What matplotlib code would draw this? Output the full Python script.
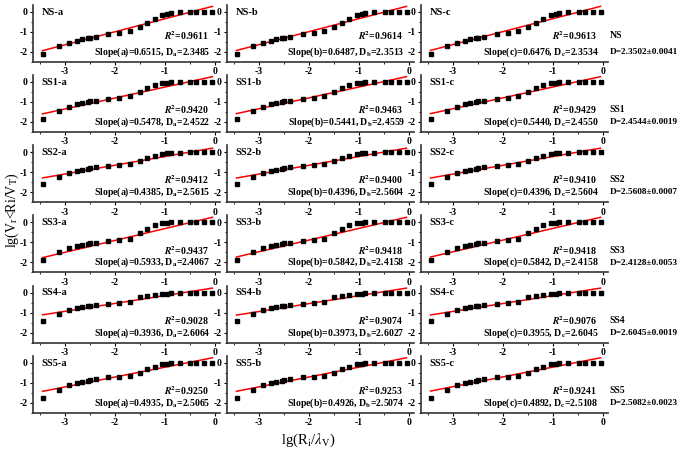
import numpy as np
import matplotlib
matplotlib.use('Agg')
import matplotlib.pyplot as plt
from matplotlib.ticker import MultipleLocator

plt.rcParams['font.family'] = ['Liberation Serif', 'DejaVu Serif']
plt.rcParams['mathtext.fontset'] = 'stix'

# lg(Ri/lambda_V) - одинаковые для всех панелей
x_vals = [-3.45, -3.13, -2.92, -2.77, -2.66, -2.55, -2.50, -2.38, -2.13, -1.91, -1.70,
          -1.50, -1.35, -1.20, -1.05, -0.95, -0.88, -0.70, -0.49, -0.37, -0.21, -0.05]

rows = ['NS', 'SS1', 'SS2', 'SS3', 'SS4', 'SS5']
cols = ['a', 'b', 'c']

ns_y = [-2.10, -1.73, -1.56, -1.47, -1.39, -1.34, -1.31, -1.25, -1.14, -1.05, -0.97,
        -0.78, -0.56, -0.36, -0.17, -0.10, -0.07, -0.03, -0.02, -0.01, 0.0, 0.0]
ss1_y = [-1.85, -1.45, -1.25, -1.12, -1.07, -1.02, -0.98, -0.95, -0.87, -0.82, -0.72,
         -0.52, -0.32, -0.18, -0.08, -0.05, -0.02, -0.02, -0.01, -0.01, 0.0, 0.0]
ss2_y = [-1.58, -1.25, -1.05, -0.92, -0.87, -0.82, -0.78, -0.76, -0.69, -0.64, -0.59,
         -0.43, -0.31, -0.20, -0.10, -0.06, -0.03, -0.02, -0.01, -0.01, 0.0, 0.0]
ss3_y = [-1.90, -1.50, -1.27, -1.18, -1.13, -1.08, -1.05, -1.02, -0.93, -0.87, -0.82,
         -0.55, -0.32, -0.15, -0.05, -0.02, 0.0, 0.0, 0.0, 0.0, 0.0, 0.0]
ss4_y = [-1.44, -1.08, -0.89, -0.79, -0.73, -0.68, -0.65, -0.63, -0.56, -0.50, -0.45,
         -0.24, -0.16, -0.11, -0.06, -0.05, -0.03, -0.02, -0.01, -0.01, 0.0, 0.0]
ss5_y = [-1.78, -1.35, -1.12, -1.02, -0.95, -0.90, -0.87, -0.82, -0.73, -0.70, -0.65,
         -0.50, -0.33, -0.20, -0.08, -0.05, -0.03, -0.02, -0.01, -0.01, 0.0, 0.0]
y_rows = [ns_y, ss1_y, ss2_y, ss3_y, ss4_y, ss5_y]

# свободный член линии регрессии (оценка по рисунку)
intercepts = [0.30, 0.29, 0.22, 0.28, 0.24, 0.27]

r2 = [[0.9611, 0.9614, 0.9613],
      [0.9420, 0.9463, 0.9429],
      [0.9412, 0.9400, 0.9410],
      [0.9437, 0.9418, 0.9418],
      [0.9028, 0.9074, 0.9076],
      [0.9250, 0.9253, 0.9241]]
slopes = [[0.6515, 0.6487, 0.6476],
          [0.5478, 0.5441, 0.5440],
          [0.4385, 0.4396, 0.4396],
          [0.5933, 0.5842, 0.5842],
          [0.3936, 0.3973, 0.3955],
          [0.4935, 0.4926, 0.4892]]
dims = [[2.3485, 2.3513, 2.3534],
        [2.4522, 2.4559, 2.4550],
        [2.5615, 2.5604, 2.5604],
        [2.4067, 2.4158, 2.4158],
        [2.6064, 2.6027, 2.6045],
        [2.5065, 2.5074, 2.5108]]
d_summary = ['D=2.3502±0.0041', 'D=2.4544±0.0019', 'D=2.5608±0.0007',
             'D=2.4128±0.0053', 'D=2.6045±0.0019', 'D=2.5082±0.0023']

W, H = 685, 455
fig = plt.figure(figsize=(W / 100, H / 100), dpi=100)

col_left = [33, 227, 421]
ax_w = 187
ax_h = 57
fs = 7

for i, row in enumerate(rows):
    bottom_px = 61.7 + 70.2 * i
    r2_y = 0.46 if i == 0 else 0.39
    for j, c in enumerate(cols):
        ax = fig.add_axes([col_left[j] / W, 1 - bottom_px / H, ax_w / W, ax_h / H])
        x = np.array(x_vals)
        y = np.array(y_rows[i])
        ax.plot(x, y, 's', color='black', ms=3.4, zorder=3)
        xl = np.array([x[0], x[-1]])
        ax.plot(xl, slopes[i][j] * xl + intercepts[i], color='#ff0000', lw=1.1, zorder=2)

        ax.set_xlim(-3.64, 0.1)
        ax.set_ylim(-2.5, 0.35)
        ax.set_xticks([-3, -2, -1, 0])
        ax.set_yticks([0, -1, -2])
        ax.set_xticklabels(['-3', '-2', '-1', '0'])
        ax.set_yticklabels(['0', '-1', '-2'])
        ax.xaxis.set_minor_locator(MultipleLocator(0.5))
        ax.yaxis.set_minor_locator(MultipleLocator(0.5))
        ax.tick_params(which='major', length=2.5, width=0.8, labelsize=fs, pad=1.5)
        ax.tick_params(which='minor', length=1.5, width=0.6)
        for lab in ax.get_xticklabels() + ax.get_yticklabels():
            lab.set_fontweight('bold')
        for s in ['top', 'right']:
            ax.spines[s].set_visible(False)
        for s in ['left', 'bottom']:
            ax.spines[s].set_linewidth(1.2)
            ax.spines[s].set_color('#333333')

        ax.text(0.047, 0.87, f'{row}-{c}', transform=ax.transAxes, fontsize=7.5,
                fontweight='bold', va='center', ha='left')
        ax.text(0.94, r2_y, r'$\mathbfit{R}^{\mathbf{2}}$' + f'={r2[i][j]:.4f}',
                transform=ax.transAxes, fontsize=fs, fontweight='bold', va='center', ha='right')
        ax.text(0.95, 0.17, f'Slope({c})={slopes[i][j]:.4f}, D' + r'$_{\mathbf{' + c + '}}$'
                + f'={dims[i][j]:.4f}', transform=ax.transAxes, fontsize=fs,
                fontweight='bold', va='center', ha='right')
        if j == 2:
            ax.text(1.01, r2_y, row, transform=ax.transAxes, fontsize=7,
                    fontweight='bold', va='center', ha='left')
            ax.text(1.01, 0.17, d_summary[i], transform=ax.transAxes, fontsize=6.7,
                    fontweight='bold', va='center', ha='left')

fig.text(12 / W, 1 - 210 / H, r'lg(V$_{\rm r}$<Ri/V$_{\rm T}$)', rotation=90,
         fontsize=10, va='center', ha='center')
fig.text(308 / W, 1 - 440 / H, r'lg(R$_{\rm i}$/$\lambda_{\rm V}$)', fontsize=10.5,
         va='center', ha='center')

fig.savefig('out.png', dpi=100)
